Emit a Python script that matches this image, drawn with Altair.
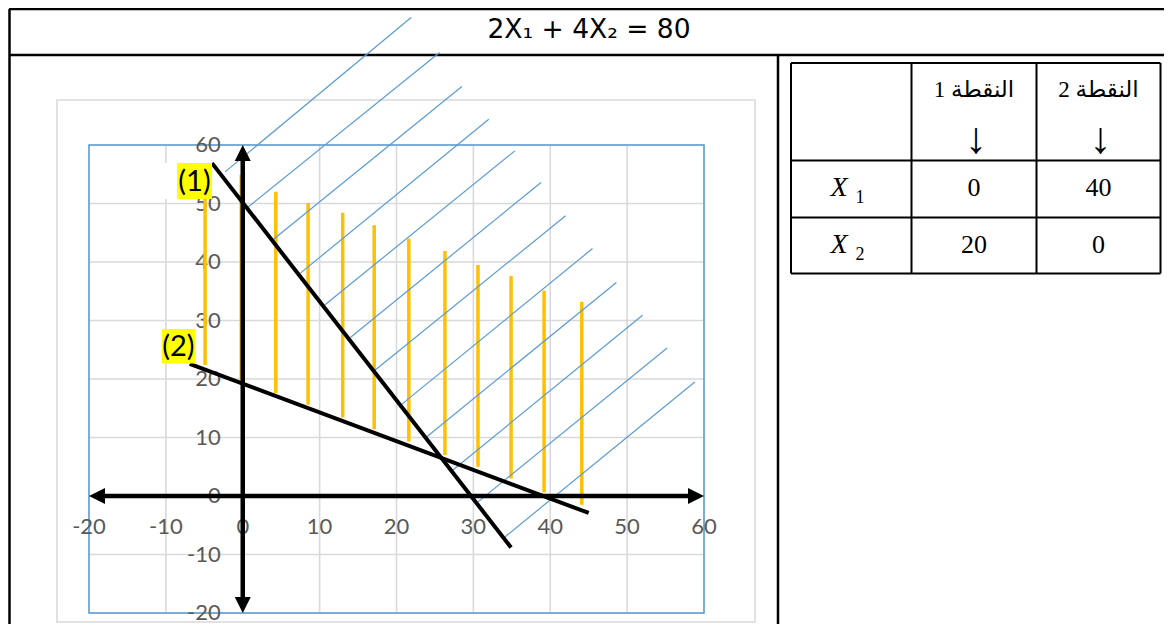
import altair as alt
import pandas as pd

# ---------------- data ----------------
TITLE = "2X₁ + 4X₂ = 80"
XTICKS = [-20, -10, 0, 10, 20, 30, 40, 50, 60]
YTICKS = [-20, -10, 0, 10, 20, 30, 40, 50, 60]

# orange vertical strokes (shaded region)
BAR_X = [-4.9, -0.2, 4.3, 8.5, 13.0, 17.1, 21.6, 26.3, 30.6, 34.9, 39.2, 44.1]
BAR_TOP = [56.9, 54.9, 52.0, 50.1, 48.4, 46.3, 44.0, 41.9, 39.5, 37.6, 35.1, 33.2]
BAR_BOTTOM = [22.4, 19.8, 17.6, 15.6, 13.4, 11.4, 9.3, 7.0, 5.0, 3.0, 0.6, -1.5]

# blue diagonal hatch lines
HATCH_X1 = [-2.3, 0.7, 4.0, 7.5, 10.7, 14.0, 17.2, 20.7, 23.9, 27.3, 30.6, 34.1]
HATCH_Y1 = [55.4, 49.4, 43.9, 38.1, 32.7, 27.1, 21.5, 15.7, 10.1, 4.4, -1.0, -7.0]
HATCH_X2 = [21.9, 25.6, 28.5, 32.0, 35.4, 38.8, 42.0, 45.5, 48.6, 52.0, 55.2, 58.8]
HATCH_Y2 = [81.8, 75.8, 70.0, 64.4, 59.0, 53.6, 47.9, 42.3, 36.5, 30.9, 25.3, 19.5]

# constraint lines (1) and (2)
LINE_X1 = [-4.0, -6.9]
LINE_Y1 = [56.9, 22.6]
LINE_X2 = [34.9, 45.0]
LINE_Y2 = [-8.8, -2.9]
LINE_LABELS = ["(1)", "(2)"]

# axes with arrows
AXIS_MIN, AXIS_MAX = -20, 60

# table
COL_HEADERS = ["النقطة 1", "النقطة 2"]
ROW_VARS = ["1", "2"]
TABLE_VALUES = [[0, 40], [20, 0]]

# ---------------- layout (pixels relative to plot origin) ----------------
W, H = 615, 468
OX, OY = 89, 145  # page position of plot origin


def px(v):
    return v - OX


def py(v):
    return v - OY


XS = alt.Scale(domain=[AXIS_MIN, AXIS_MAX], nice=False, zero=False)
YS = alt.Scale(domain=[AXIS_MIN, AXIS_MAX], nice=False, zero=False)

one = pd.DataFrame({"k": [0]})
layers = []
SERIF = "Liberation Serif, DejaVu Serif, serif"


def hrule(x1, x2, y, color="black", sw=2.5):
    return alt.Chart(one).mark_rule(color=color, strokeWidth=sw).encode(
        x=alt.value(px(x1)), x2=alt.value(px(x2)), y=alt.value(py(y)))


def vrule(x, y1, y2, color="black", sw=2.5):
    return alt.Chart(one).mark_rule(color=color, strokeWidth=sw).encode(
        x=alt.value(px(x)), y=alt.value(py(y1)), y2=alt.value(py(y2)))


def label(txt, x, y, **kw):
    return alt.Chart(one).mark_text(**kw).encode(
        x=alt.value(px(x)), y=alt.value(py(y)), text=alt.value(txt))


# outer document table
layers.append(hrule(9, 1172, 9))
layers.append(hrule(9, 1172, 55))
layers.append(vrule(9.5, 9, 632))
layers.append(vrule(778, 55, 632))
layers.append(label(TITLE, 589, 38, font="DejaVu Sans", fontSize=26.5,
                    align="center", baseline="alphabetic", color="black"))

# small table
TX = [791, 911.5, 1036.5, 1160.5]
TY = [63, 160.5, 217.5, 273.5]
for x in TX:
    layers.append(vrule(x, TY[0], TY[-1], sw=2))
for y in TY:
    layers.append(hrule(TX[0], TX[-1], y, sw=2))
col_c = [(TX[i] + TX[i + 1]) / 2 for i in range(3)]
for j, hdr in enumerate(COL_HEADERS):
    layers.append(label(hdr, col_c[j + 1], 97, font="Liberation Serif, DejaVu Sans",
                        fontSize=23, align="center", baseline="alphabetic",
                        dir="rtl", color="black"))
    layers.append(label("↓", col_c[j + 1] + 2, 140, font="Liberation Serif",
                        fontSize=44, align="center", baseline="middle",
                        color="black"))
row_base = [196, 253]
for i, sub in enumerate(ROW_VARS):
    layers.append(label("X", 839, row_base[i], font=SERIF, fontSize=28,
                        fontStyle="italic", align="center", baseline="alphabetic",
                        color="black"))
    layers.append(label(sub, 860, row_base[i] + 7, font=SERIF, fontSize=18,
                        align="center", baseline="alphabetic", color="black"))
    for j, v in enumerate(TABLE_VALUES[i]):
        layers.append(label(str(v), col_c[j + 1], row_base[i], font=SERIF,
                            fontSize=26, align="center", baseline="alphabetic",
                            color="black"))

# chart area frame
layers.append(alt.Chart(one).mark_rect(fillOpacity=0, stroke="#d9d9d9", strokeWidth=1.5).encode(
    x=alt.value(px(57)), x2=alt.value(px(755)), y=alt.value(py(100)), y2=alt.value(py(622))))

# gridlines
gx = pd.DataFrame({"x": XTICKS, "y1": AXIS_MIN, "y2": AXIS_MAX})
gy = pd.DataFrame({"y": YTICKS, "x1": AXIS_MIN, "x2": AXIS_MAX})
layers.append(alt.Chart(gx).mark_rule(color="#d9d9d9", strokeWidth=1.6).encode(
    x=alt.X("x:Q", scale=XS, axis=None),
    y=alt.Y("y1:Q", scale=YS, axis=None), y2="y2:Q"))
layers.append(alt.Chart(gy).mark_rule(color="#d9d9d9", strokeWidth=1.6).encode(
    y=alt.Y("y:Q", scale=YS, axis=None),
    x=alt.X("x1:Q", scale=XS, axis=None), x2="x2:Q"))

# plot area border
pb = pd.DataFrame({"x1": [AXIS_MIN], "x2": [AXIS_MAX], "y1": [AXIS_MIN], "y2": [AXIS_MAX]})
layers.append(alt.Chart(pb).mark_rect(fillOpacity=0, stroke="#5b9bd5", strokeWidth=1.5).encode(
    x=alt.X("x1:Q", scale=XS, axis=None), x2="x2:Q",
    y=alt.Y("y1:Q", scale=YS, axis=None), y2="y2:Q"))

# tick labels
tlx = pd.DataFrame({"v": XTICKS, "zero": 0, "t": [str(v) for v in XTICKS]})
tly = pd.DataFrame({"v": YTICKS, "zero": 0, "t": [str(v) for v in YTICKS]})
layers.append(alt.Chart(tlx).mark_text(font="Lato", fontSize=22, color="#595959",
                                       dy=31, align="center", baseline="middle").encode(
    x=alt.X("v:Q", scale=XS, axis=None), y=alt.Y("zero:Q", scale=YS, axis=None), text="t:N"))
layers.append(alt.Chart(tly).mark_text(font="Lato", fontSize=22, color="#595959",
                                       dx=-22, align="right", baseline="middle").encode(
    y=alt.Y("v:Q", scale=YS, axis=None), x=alt.X("zero:Q", scale=XS, axis=None), text="t:N"))

# orange strokes
bars = pd.DataFrame({"x": BAR_X, "top": BAR_TOP, "bottom": BAR_BOTTOM})
layers.append(alt.Chart(bars).mark_rule(color="#ffc000", strokeWidth=3.5).encode(
    x=alt.X("x:Q", scale=XS, axis=None),
    y=alt.Y("bottom:Q", scale=YS, axis=None), y2="top:Q"))

# hatch lines
hatch = pd.DataFrame({"x1": HATCH_X1, "y1": HATCH_Y1, "x2": HATCH_X2, "y2": HATCH_Y2})
layers.append(alt.Chart(hatch).mark_rule(color="#5b9bd5", strokeWidth=1.2).encode(
    x=alt.X("x1:Q", scale=XS, axis=None), y=alt.Y("y1:Q", scale=YS, axis=None),
    x2="x2:Q", y2="y2:Q"))

# axes lines with arrows
ax = pd.DataFrame({"x1": [AXIS_MIN + 1, 0], "x2": [AXIS_MAX - 1, 0],
                   "y1": [0, AXIS_MIN + 1], "y2": [0, AXIS_MAX - 1]})
layers.append(alt.Chart(ax).mark_rule(color="black", strokeWidth=4.5).encode(
    x=alt.X("x1:Q", scale=XS, axis=None), y=alt.Y("y1:Q", scale=YS, axis=None),
    x2="x2:Q", y2="y2:Q"))
arrows = [
    (AXIS_MIN, 0, "M0,0L1,-0.5L1,0.5Z"),
    (AXIS_MAX, 0, "M0,0L-1,-0.5L-1,0.5Z"),
    (0, AXIS_MAX, "M0,0L-0.5,1L0.5,1Z"),
    (0, AXIS_MIN, "M0,0L-0.5,-1L0.5,-1Z"),
]
for xa, ya, shp in arrows:
    layers.append(alt.Chart(pd.DataFrame({"x": [xa], "y": [ya]})).mark_point(
        shape=shp, size=1024, filled=True, color="black", opacity=1, strokeWidth=0).encode(
        x=alt.X("x:Q", scale=XS, axis=None), y=alt.Y("y:Q", scale=YS, axis=None)))

# constraint lines
lines = pd.DataFrame({"x1": LINE_X1, "y1": LINE_Y1, "x2": LINE_X2, "y2": LINE_Y2})
layers.append(alt.Chart(lines).mark_rule(color="black", strokeWidth=4).encode(
    x=alt.X("x1:Q", scale=XS, axis=None), y=alt.Y("y1:Q", scale=YS, axis=None),
    x2="x2:Q", y2="y2:Q"))

# labels (1), (2) with yellow highlight
boxes = [(177, 212, 163, 199), (161.7, 195, 329, 363.5)]
layers.append(alt.Chart(one).mark_rect(color="white").encode(
    x=alt.value(px(163)), x2=alt.value(px(177)), y=alt.value(py(163)), y2=alt.value(py(199))))
for (bx1, bx2, by1, by2), txt in zip(boxes, LINE_LABELS):
    layers.append(alt.Chart(one).mark_rect(color="#ffff00").encode(
        x=alt.value(px(bx1)), x2=alt.value(px(bx2)), y=alt.value(py(by1)), y2=alt.value(py(by2))))
    layers.append(label(txt, (bx1 + bx2) / 2, (by1 + by2) / 2 + 1, font="Lato", fontSize=29,
                        align="center", baseline="middle", color="black"))

chart = alt.layer(*layers).properties(
    width=W, height=H,
    padding={"left": OX - 8, "top": OY - 8, "right": 1156 - (OX - 8) - W, "bottom": 616 - (OY - 8) - H},
    autosize=alt.AutoSizeParams(type="none"),
    background="white",
).configure_view(strokeWidth=0)

chart.save("out.html", embed_options={"renderer": "svg", "actions": False})
